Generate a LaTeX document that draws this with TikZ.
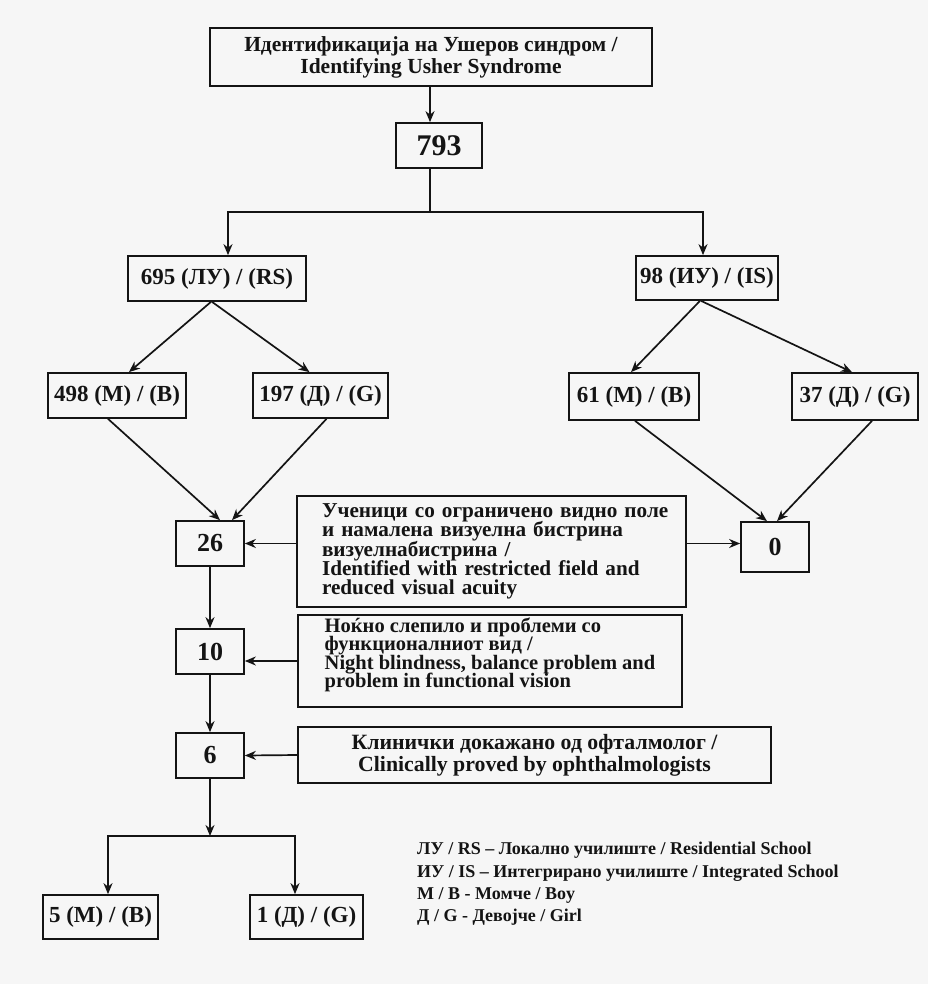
\documentclass[tikz,border=0pt]{standalone}
\usepackage{fontspec}
\setmainfont{Liberation Serif}
\usetikzlibrary{positioning}
\usetikzlibrary{arrows.meta}
\definecolor{ink}{RGB}{20,20,20}
\definecolor{paper}{RGB}{246,246,246}
\newcommand{\fs}[2]{\fontsize{#1}{#2}\selectfont\bfseries\lineskiplimit=-30pt}

\begin{document}
\begin{tikzpicture}[x=1pt, y=-1pt]
\fill[paper] (0,0) rectangle (928,984);
\useasboundingbox (0,0) rectangle (928,984);

\begin{scope}[every node/.style={draw=ink, text=ink, line width=1.7pt,
                                  inner sep=0pt, font=\fs{23}{23}}]
  \node[minimum width=442, minimum height=58, align=center, font=\fs{21.5}{22}]
    (title) at (431, 57) {Идентификација на Ушеров синдром /\\Identifying Usher Syndrome};
  \node[minimum width=86, minimum height=45, font=\fs{30}{30}] (total) at (439, 145.5) {793};

  \node[minimum width=178, minimum height=45] (rs) at (217, 278.5) {695 (ЛУ) / (RS)};
  \node[minimum width=142, minimum height=44] (is) at (707, 278) {98 (ИУ) / (IS)};

  \node[minimum width=138, minimum height=45] (rsB) at (117, 395.5) {498 (М) / (В)};
  \node[minimum width=135, minimum height=45] (rsG) at (320.5, 395.5) {197 (Д) / (G)};
  \node[minimum width=130, minimum height=47] (isB) at (634, 396.5) {61 (М) / (В)};
  \node[minimum width=126, minimum height=47] (isG) at (855, 396.5) {37 (Д) / (G)};

  \node[minimum width=68, minimum height=45, font=\fs{26}{26}] (field) at (210, 543.5) {26};
  \node[minimum width=68, minimum height=50, font=\fs{26}{26}] (none) at (775, 547) {0};
  \node[minimum width=68, minimum height=45, font=\fs{26}{26}] (night) at (210, 651.5) {10};
  \node[minimum width=68, minimum height=45, font=\fs{26}{26}] (clinic) at (210, 755.5) {6};

  \node[minimum width=115, minimum height=44] (boys) at (100.5, 917) {5 (М) / (В)};
  \node[minimum width=113, minimum height=44] (girls) at (306.5, 917) {1 (Д) / (G)};
\end{scope}

\begin{scope}[every node/.style={draw=ink, text=ink, line width=1.7pt, inner ysep=0pt}]
  \node[text width=339pt, inner xsep=25pt, minimum height=111, align=left,
        font=\fs{21.2}{19.3}] (fieldtxt) at (491.5, 551.5)
    {\mbox{Ученици со ограничено видно поле}\\\mbox{и намалена визуелна бистрина}\\
     \mbox{визуелнабистрина /}\\\mbox{Identified with restricted field and}\\
     \mbox{reduced visual acuity}};
  \node[minimum width=384, minimum height=92, align=left, inner xsep=0pt,
        font=\fs{20.5}{18.3}] (nighttxt) at (490, 661)
    {Ноќно слепило и проблеми со\\функционалниот вид /\\
     Night blindness, balance problem and\\problem in functional vision\\[-1.5pt]\mbox{}};
  \node[minimum width=473, minimum height=56, align=center, inner xsep=0pt,
        font=\fs{21.8}{22}] (clinictxt) at (534.5, 755)
    {Клинички докажано од офталмолог /\\Clinically proved by ophthalmologists};
\end{scope}

% legend
\node[anchor=north west, align=left, inner sep=0pt, text=ink, font=\fs{18}{22.3}]
  (legend) at (417, 842)
  {ЛУ / RS – Локално училиште / Residential School\\
   ИУ / IS – Интегрирано училиште / Integrated School\\
   М / В - Момче / Boy\\
   Д / G - Девојче / Girl};

\coordinate (split) at (430, 212);
\coordinate (splitL) at (228, 212);
\coordinate (splitR) at (703, 212);
\coordinate (fork) at (210, 836);
\coordinate (forkL) at (108, 836);
\coordinate (forkR) at (295, 836);

\begin{scope}[>={Stealth[length=11pt, width=9pt, inset=3.5pt]},
              link/.style={draw=ink, line width=1.7pt},
              every edge/.style={link}]
  \path [->] (title.south -| split) edge (total.north -| split);
  \path (total.south -| split) edge (split);
  \draw [link, ->] (split) -| (splitL |- rs.north);
  \draw [link, ->] (split) -| (splitR |- is.north);

  \path [->] ([xshift=-6]rs.south) edge ([xshift=12]rsB.north);
  \path [->] ([xshift=-5]rs.south) edge ([xshift=-11]rsG.north);
  \path [->] ([xshift=-7]is.south) edge ([xshift=-3]isB.north);
  \path [->] ([xshift=-6]is.south) edge ([xshift=-3]isG.north);

  \path [->] ([xshift=-9]rsB.south) edge ([xshift=10]field.north);
  \path [->] ([xshift=6]rsG.south) edge ([xshift=22]field.north);
  \path [->] ([xshift=1]isB.south) edge ([xshift=-8]none.north);
  \path [->] ([xshift=17]isG.south) edge ([xshift=2]none.north);

  \path [->] (fieldtxt.west |- field) edge (field.east);
  \path [->] (fieldtxt.east |- field) edge (none.west |- field);
  \path [->] (field) edge (night);
  \path [->] (nighttxt.west) edge (nighttxt.west -| night.east);
  \path [->] (night) edge (clinic);
  \path [->] (clinictxt.west) edge (clinic.east);

  \path [->] (clinic) edge (fork);
  \draw [link, ->] (fork) -| (forkL |- boys.north);
  \draw [link, ->] (fork) -| (forkR |- girls.north);
\end{scope}
\end{tikzpicture}
\end{document}
